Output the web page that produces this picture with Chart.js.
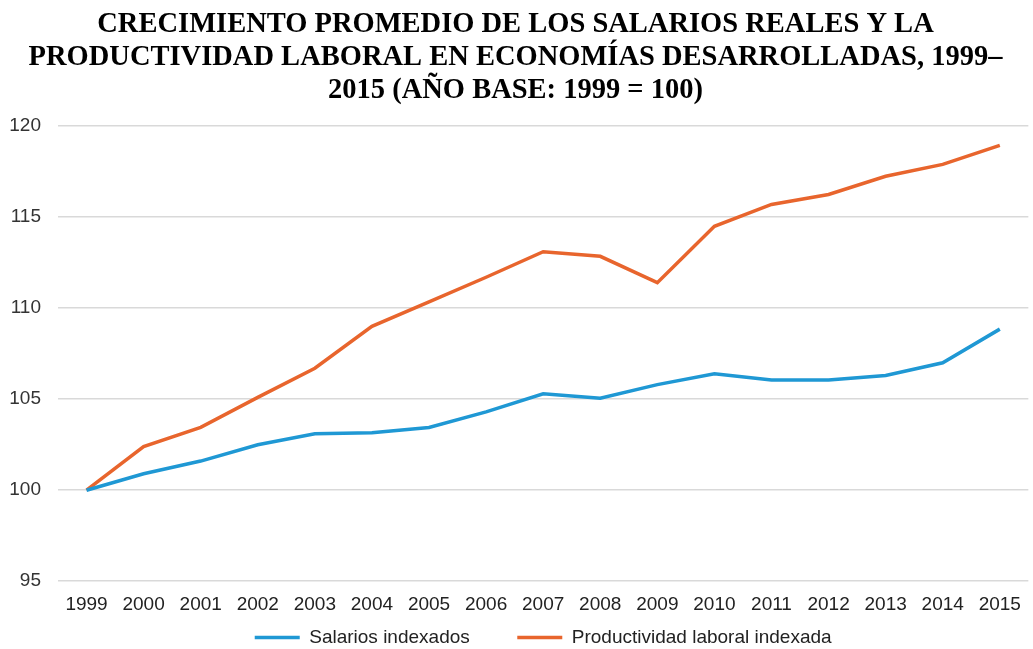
<!DOCTYPE html>
<html lang="es">
<head>
<meta charset="UTF-8">
<title>Salarios reales y productividad laboral</title>
<script src="https://cdn.jsdelivr.net/npm/chart.js@4.4.1/dist/chart.umd.min.js"></script>
<style>
body {
margin: 0;
padding: 0;
background-color: #fff;
}
#wrap {
width: 1033px;
height: 649px;
}
</style>
</head>
<body>
<div id="wrap">
<canvas id="chart" width="1033" height="649"></canvas>
</div>
<script>
// Data
const years = ['1999', '2000', '2001', '2002', '2003', '2004', '2005', '2006', '2007',
  '2008', '2009', '2010', '2011', '2012', '2013', '2014', '2015'];
const salarios = [100, 100.9, 101.6, 102.5, 103.1, 103.15, 103.45, 104.3, 105.3,
  105.05, 105.8, 106.4, 106.05, 106.05, 106.3, 107.0, 108.85];
const productividad = [100, 102.4, 103.45, 105.1, 106.7, 109.0, 110.35, 111.7, 113.1,
  112.85, 111.4, 114.5, 115.7, 116.25, 117.25, 117.9, 118.95];
const titleLines = [
  'CRECIMIENTO PROMEDIO DE LOS SALARIOS REALES Y LA',
  'PRODUCTIVIDAD LABORAL EN ECONOMÍAS DESARROLLADAS, 1999–',
  '2015 (AÑO BASE: 1999 = 100)'
];

const tickFont = {family: "'Liberation Sans', Arial, sans-serif", size: 19};

const ctx = document.getElementById('chart').getContext('2d');
new Chart(ctx, {
  type: 'line',
  data: {
    labels: years,
    datasets: [{
      label: 'Salarios indexados',
      data: salarios,
      borderColor: '#1f98d4',
      backgroundColor: '#1f98d4',
      borderWidth: 3.5,
      pointRadius: 0,
      tension: 0
    }, {
      label: 'Productividad laboral indexada',
      data: productividad,
      borderColor: '#e8652d',
      backgroundColor: '#e8652d',
      borderWidth: 3.5,
      pointRadius: 0,
      tension: 0
    }]
  },
  options: {
    responsive: false,
    animation: false,
    layout: {padding: {left: 0, right: 2, top: 0, bottom: -8}},
    plugins: {
      title: {
        display: true,
        text: titleLines,
        color: '#000',
        font: {family: "'Liberation Serif', 'Times New Roman', serif", size: 28.5, weight: 'bold', lineHeight: 1.16},
        padding: {top: 8, bottom: 19}
      },
      legend: {
        position: 'bottom',
        fullSize: false,
        labels: {
          usePointStyle: true,
          pointStyle: 'line',
          pointStyleWidth: 45,
          color: '#222',
          font: tickFont,
          padding: 0,
          generateLabels: function (chart) {
            const items = Chart.defaults.plugins.legend.labels.generateLabels(chart);
            // widen the gap between the two entries
            items[0].text = items[0].text + '\u00a0'.repeat(9);
            return items;
          }
        }
      },
      tooltip: {enabled: false}
    },
    scales: {
      x: {
        offset: true,
        grid: {display: false, drawTicks: false},
        border: {display: false},
        ticks: {color: '#222', font: tickFont, padding: 12, maxRotation: 0, autoSkip: false}
      },
      y: {
        min: 95,
        max: 120,
        afterFit: function (scale) { scale.width = 58; },
        grid: {color: '#d9d9d9', lineWidth: 1.5, drawTicks: false},
        border: {display: false},
        ticks: {stepSize: 5, color: '#333', font: tickFont, padding: 17}
      }
    }
  }
});
</script>
</body>
</html>
